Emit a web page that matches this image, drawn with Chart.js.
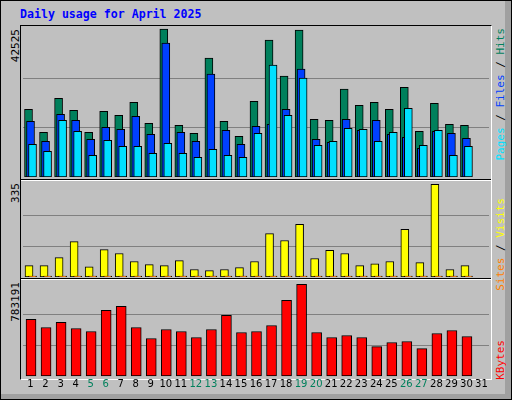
<!DOCTYPE html>
<html><head><meta charset="utf-8">
<script src="https://cdn.jsdelivr.net/npm/chart.js@4"></script>
<style>
body{margin:0;background:#fff}
#wrap{position:absolute;left:0;top:0;width:510px;height:398px;background:#c0c0c0;border:1px solid #000;box-shadow:inset -6px -5px 0 #a0a0a0}
#panel{position:absolute;left:20px;top:25px;width:470px;height:353px;border-top:1px solid #000;border-left:1px solid #000;border-right:1px solid #fff;border-bottom:1px solid #fff}
.sep{position:absolute;left:21px;width:470px;height:1px;background:#fff}
.sep2{position:absolute;left:21px;width:470px;height:1px;background:#000}
canvas{position:absolute}
.t{position:absolute;font-family:"DejaVu Sans Mono",monospace;white-space:nowrap}
.v{position:absolute;writing-mode:vertical-rl;transform:rotate(180deg);font-family:"DejaVu Sans Mono",monospace;font-size:11px;white-space:nowrap}
</style></head><body>
<div id="wrap"></div>
<div id="panel"></div>
<div class="sep2" style="top:179px"></div><div class="sep" style="top:180px"></div>
<div class="sep2" style="top:278px"></div><div class="sep" style="top:279px"></div>
<div class="t" style="left:20px;top:7px;color:#0000ff;font-weight:bold;font-size:11.6px">Daily usage for April 2025</div>
<div class="v" style="left:9px;top:29px;color:#000">42525</div>
<div class="v" style="left:9px;top:183px;color:#000">335</div>
<div class="v" style="left:9px;top:282px;color:#000">783191</div>
<div class="v" style="left:494px;top:28px"><span style="color:#00e0ff">Pages</span><span style="color:#000"> / </span><span style="color:#0040ff">Files</span><span style="color:#000"> / </span><span style="color:#00805c">Hits</span></div>
<div class="v" style="left:494px;top:198px"><span style="color:#ff8000">Sites</span><span style="color:#000"> / </span><span style="color:#ffff00">Visits</span></div>
<div class="v" style="left:494px;top:340px;color:#ff0000">KBytes</div>
<canvas id="c1" style="left:23px;top:26px;width:466px;height:151px" width="466" height="151"></canvas>
<canvas id="c2" style="left:23px;top:182px;width:466px;height:95px" width="466" height="95"></canvas>
<canvas id="c3" style="left:23px;top:281px;width:466px;height:119px" width="466" height="119"></canvas>
<script>
const days=[1,2,3,4,5,6,7,8,9,10,11,12,13,14,15,16,17,18,19,20,21,22,23,24,25,26,27,28,29,30,31].map(String);
const weekend=['5','6','12','13','19','20','26','27'];
const hits=[19460,12830,22630,19170,12830,18880,17730,21480,15420,42525,14850,12540,34160,16000,11680,21770,39350,28970,42240,16580,16290,25230,20610,21480,19460,25800,13120,21190,15140,14850,null];
const files=[16000,10230,18020,16290,10810,14270,13690,17440,12250,38490,12830,10230,29550,13410,9370,14560,15140,19460,30990,10810,9950,16580,13410,16290,12250,11390,8220,13120,12540,11100,null];
const pages=[9370,7350,16290,13120,6200,10520,8790,8790,6780,9660,6780,5620,7930,6200,5620,12540,32150,17730,28400,9080,10230,13980,13690,10230,12830,19750,9080,13410,6200,8790,null];
const visits=[41,41,70,128,37,99,85,56,45,41,59,27,23,27,34,56,157,132,190,67,96,85,41,48,56,172,52,335,27,41,null];
const sites=[3,3,3,3,3,3,3,3,3,3,3,3,3,3,3,3,3,3,3,3,3,3,3,3,3,3,3,3,3,3,null];
const kbytes=[483060,414470,457340,405890,380170,560250,594550,414470,320140,397320,380170,328720,397320,517370,371590,380170,431620,646000,783191,371590,328720,345870,328720,251540,285840,294420,234390,363020,388740,337290,null];
const maxHits=42525,maxVisits=335,maxKB=783191;

const shift={id:'shift',
 beforeDatasetDraw(ch,a){const dx=ch.data.datasets[a.index].dx||0;ch.ctx.save();ch.ctx.translate(dx,0);},
 afterDatasetDraw(ch){ch.ctx.restore();}};
const daylabels={id:'daylabels',afterDraw(ch){
 const ctx=ch.ctx,x=ch.scales.x;ctx.save();ctx.font='10px "DejaVu Sans"';ctx.textAlign='center';ctx.textBaseline='top';
 days.forEach((d,i)=>{ctx.fillStyle=weekend.includes(d)?'#00805c':'#000';ctx.fillText(d,x.getPixelForValue(i),ch.chartArea.bottom+3);});
 ctx.restore();}};
function mk(id,sets,max,top,pb){
 return new Chart(document.getElementById(id),{type:'bar',data:{labels:days,datasets:sets},
  options:{responsive:false,animation:false,devicePixelRatio:1,layout:{padding:{bottom:pb||0}},
   plugins:{legend:{display:false},tooltip:{enabled:false}},
   datasets:{bar:{grouped:false,borderColor:'#000',borderWidth:1,borderSkipped:false,clip:false}},
   scales:{x:{display:false,offset:true},
    y:{min:0,max:max,border:{display:false},ticks:{display:false},grid:{color:'#808080',lineWidth:1,drawTicks:false},
     afterBuildTicks(s){s.ticks=[{value:top/3},{value:2*top/3}];}}}},
  plugins:pb?[shift,daylabels]:[shift]});
}
mk('c1',[
 {data:pages,backgroundColor:'#00e0ff',barThickness:8,dx:2,order:0},
 {data:files,backgroundColor:'#0040ff',barThickness:8,dx:0,order:1},
 {data:hits,backgroundColor:'#00805c',barThickness:8,dx:-2,order:2}],
 maxHits*151/148,maxHits);
mk('c2',[
 {data:sites,backgroundColor:'#ff8000',barThickness:8,dx:2,order:0},
 {data:visits,backgroundColor:'#ffff00',barThickness:8,dx:-1.5,order:1}],
 maxVisits*95/92.7,maxVisits);
mk('c3',[{data:kbytes,backgroundColor:'#ff0000',barThickness:10,dx:0.5}],
 maxKB*95/91.7,maxKB,24);
</script></body></html>
